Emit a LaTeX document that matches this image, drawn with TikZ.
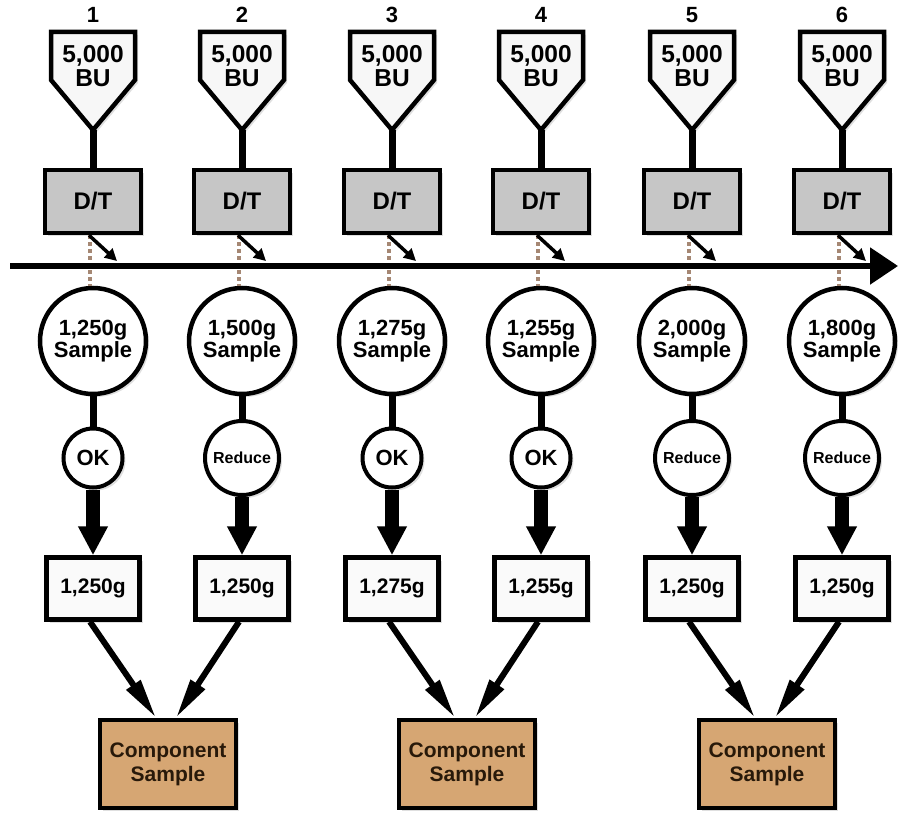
\documentclass[tikz,border=0pt]{standalone}
\usepackage{fontspec}
\setmainfont{Liberation Sans}
\usetikzlibrary{arrows.meta,shadows}
\definecolor{compfill}{RGB}{214,166,115}
\definecolor{dotbrown}{RGB}{165,135,115}
\definecolor{comptext}{RGB}{40,25,10}

\begin{document}
\begin{tikzpicture}[x=1pt, y=-1pt, font=\bfseries,
  soft/.style={drop shadow={shadow xshift=3pt, shadow yshift=-3pt, opacity=.25}},
  hopper/.style={draw, line width=4.5pt, fill=gray!6, soft},
  hoptext/.style={align=center, font={\fontsize{24.5}{24}\selectfont\bfseries}},
  dtbox/.style={rectangle, draw, line width=4.5pt, fill=gray!45, minimum width=96pt, minimum height=63pt, font={\fontsize{24}{24}\selectfont\bfseries}, soft},
  samp/.style={circle, draw, line width=4.5pt, fill=white, minimum size=106pt, inner sep=1pt, align=center, font={\fontsize{22}{22}\selectfont\bfseries}, soft},
  okcirc/.style={circle, draw, line width=4pt, fill=white, minimum size=59pt, inner sep=1pt, font={\fontsize{22}{22}\selectfont\bfseries}, soft},
  redcirc/.style={circle, draw, line width=4pt, fill=white, minimum size=74pt, inner sep=1pt, font={\fontsize{16}{18}\selectfont\bfseries}, soft},
  wbox/.style={rectangle, draw, line width=4.5pt, fill=gray!4, minimum width=93pt, minimum height=62pt, font={\fontsize{21}{22}\selectfont\bfseries}, soft},
  comp/.style={rectangle, draw, line width=4.5pt, fill=compfill, minimum width=136pt, minimum height=88pt, align=center, text=comptext, font={\fontsize{21}{24}\selectfont\bfseries}, soft},
  numlbl/.style={font={\fontsize{22}{22}\selectfont\bfseries}},
  stem/.style={line width=7pt},
  tick/.style={line width=3.5pt, -{Triangle[length=12pt, width=12pt]}},
  dots/.style={dotbrown, line width=4pt, dash pattern=on 4pt off 3pt},
  fat/.style={line width=14pt, -{Triangle[length=29pt, width=28pt]}},
  feed/.style={line width=6pt, -{Triangle[length=40pt, width=16pt]}}]
  \useasboundingbox (0,0) rectangle (901,813);

  % composite samples
  \node[comp] (comp1) at (168,764) {Component\\Sample};
  \node[comp] (comp2) at (467,764) {Component\\Sample};
  \node[comp] (comp3) at (767,764) {Component\\Sample};

  \foreach \x/\n/\s/\k/\d/\r/\c/\o in {
      93/1/{1,250g}/okcirc/OK/{1,250g}/1/-12,
      242/2/{1,500g}/redcirc/Reduce/{1,250g}/1/8,
      392/3/{1,275g}/okcirc/OK/{1,275g}/2/-12,
      541/4/{1,255g}/okcirc/OK/{1,255g}/2/8,
      692/5/{2,000g}/redcirc/Reduce/{1,250g}/3/-12,
      842/6/{1,800g}/redcirc/Reduce/{1,250g}/3/8}{
    \node[numlbl] (num\n) at (\x,15) {\n};
    \draw[hopper] (\x-42,32) -- (\x+42,32) -- (\x+42,80) -- (\x,130) -- (\x-42,80) -- cycle;
    \node[hoptext] (bu\n) at (\x,66) {5,000\\BU};
    \coordinate (tip\n) at (\x,130);
    \node[dtbox] (dt\n) at (\x,201.5) {D/T};
    \node[samp] (samp\n) at (\x,341) {\s\\Sample};
    \node[\k] (dec\n) at (\x,458) {\d};
    \node[wbox] (box\n) at (\x,588.5) {\r};
    \coordinate (hit\n) at (\x+24,261);
    \draw[stem] (tip\n) -- (dt\n);
    \draw[dots] ([xshift=-3pt]dt\n.south) -- ([xshift=-3pt]samp\n.north);
    \draw[tick] ([xshift=-4pt]dt\n.south) -- (hit\n);
    \draw[stem] (samp\n) -- (dec\n);
    \draw[fat] (dec\n) -- (box\n);
    \draw[feed] ([xshift=-3pt]box\n.south) -- ([xshift=\o pt]comp\c.north);
  }

  % time line
  \coordinate (start) at (10,266);
  \coordinate (end) at (898,266);
  \draw[line width=5.5pt, -{Triangle[length=28pt, width=36pt]}] (start) -- (end);
\end{tikzpicture}
\end{document}
